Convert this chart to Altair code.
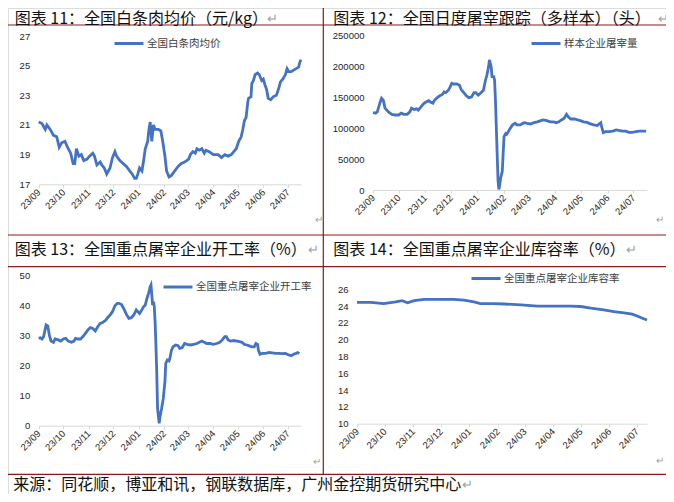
import altair as alt
import pandas as pd

# ---------------- data ----------------
price_dates = ["2023/09/01","2023/09/05","2023/09/07","2023/09/09","2023/09/11","2023/09/15","2023/09/19","2023/09/23","2023/09/26","2023/09/29",
 "2023/10/03","2023/10/07","2023/10/10","2023/10/13","2023/10/15","2023/10/17","2023/10/20","2023/10/23","2023/10/26","2023/10/30",
 "2023/11/02","2023/11/06","2023/11/08","2023/11/11","2023/11/15","2023/11/17","2023/11/20","2023/11/23","2023/11/27","2023/11/30",
 "2023/12/03","2023/12/05","2023/12/09","2023/12/13","2023/12/17","2023/12/21","2023/12/24","2023/12/27","2023/12/29","2023/12/31",
 "2024/01/02","2024/01/05","2024/01/07","2024/01/09","2024/01/12","2024/01/13","2024/01/15","2024/01/16","2024/01/17","2024/01/19",
 "2024/01/21","2024/01/25","2024/01/28","2024/01/30","2024/02/02","2024/02/04","2024/02/07","2024/02/10","2024/02/14","2024/02/18",
 "2024/02/22","2024/02/26","2024/03/02","2024/03/04","2024/03/07","2024/03/10","2024/03/12","2024/03/15","2024/03/18","2024/03/21",
 "2024/03/23","2024/03/27","2024/04/01","2024/04/07","2024/04/11","2024/04/15","2024/04/19","2024/04/23","2024/04/26","2024/04/29",
 "2024/05/02","2024/05/05","2024/05/07","2024/05/09","2024/05/11","2024/05/13","2024/05/14","2024/05/17","2024/05/18","2024/05/20",
 "2024/05/22","2024/05/25","2024/05/27","2024/05/30","2024/06/01","2024/06/03","2024/06/05","2024/06/07","2024/06/10","2024/06/13",
 "2024/06/17","2024/06/20","2024/06/22","2024/06/25","2024/06/28","2024/06/30","2024/07/02","2024/07/05","2024/07/08","2024/07/11",
 "2024/07/14","2024/07/16","2024/07/17"]
price_vals = [21.2,21.1,20.9,20.7,21.0,20.7,20.3,20.2,19.5,19.8,
 19.9,19.4,19.1,18.4,18.4,19.4,18.9,19.0,18.6,18.7,
 18.9,19.1,18.9,18.3,18.5,18.3,18.1,17.7,18.1,18.8,
 19.2,18.9,18.6,18.4,18.2,17.9,17.7,17.4,17.4,17.7,
 18.1,17.9,18.6,19.4,19.9,20.5,21.2,20.5,19.9,21.0,
 20.7,20.7,20.6,20.0,18.9,17.9,17.5,17.6,17.9,18.2,
 18.4,18.5,18.7,19.0,19.2,19.1,19.4,19.3,19.4,19.1,
 19.3,19.2,19.0,19.0,18.8,19.0,18.9,19.0,19.2,19.4,
 19.9,20.2,20.7,21.3,21.5,22.5,22.8,22.9,23.8,24.0,
 24.4,24.5,24.4,24.0,24.1,23.7,23.4,22.8,22.7,22.9,
 23.0,23.5,23.9,24.1,24.4,24.8,24.6,24.6,24.7,24.8,
 24.9,25.3,25.4]

slaughter_dates = ["2023/09/01","2023/09/04","2023/09/06","2023/09/09","2023/09/11","2023/09/13","2023/09/15","2023/09/19","2023/09/23","2023/09/27",
 "2023/10/01","2023/10/04","2023/10/07","2023/10/11","2023/10/14","2023/10/16","2023/10/19","2023/10/22","2023/10/24","2023/10/27",
 "2023/10/30","2023/11/02","2023/11/05","2023/11/07","2023/11/10","2023/11/12","2023/11/15","2023/11/18","2023/11/21","2023/11/23",
 "2023/11/25","2023/11/28","2023/11/30","2023/12/02","2023/12/04","2023/12/08","2023/12/11","2023/12/13","2023/12/16","2023/12/19",
 "2023/12/22","2023/12/25","2023/12/28","2023/12/30","2024/01/02","2024/01/05","2024/01/08","2024/01/10","2024/01/12","2024/01/14",
 "2024/01/15","2024/01/17","2024/01/18","2024/01/20","2024/01/21","2024/01/22","2024/01/23","2024/01/24","2024/01/25","2024/01/26",
 "2024/01/27","2024/01/28","2024/01/30","2024/01/31","2024/02/01","2024/02/03","2024/02/04","2024/02/06","2024/02/08","2024/02/11",
 "2024/02/14","2024/02/16","2024/02/20","2024/02/23","2024/02/25","2024/02/28","2024/03/03","2024/03/07","2024/03/11","2024/03/15",
 "2024/03/18","2024/03/22","2024/03/26","2024/03/30","2024/04/02","2024/04/05","2024/04/08","2024/04/11","2024/04/14","2024/04/16",
 "2024/04/19","2024/04/23","2024/04/27","2024/04/30","2024/05/04","2024/05/08","2024/05/12","2024/05/16","2024/05/20","2024/05/22",
 "2024/05/24","2024/05/25","2024/05/27","2024/05/30","2024/06/03","2024/06/07","2024/06/11","2024/06/14","2024/06/18","2024/06/22",
 "2024/06/26","2024/06/30","2024/07/04","2024/07/08","2024/07/12","2024/07/16"]
slaughter_vals = [125000,124000,126000,140000,148000,145000,132000,126000,122000,121000,
 121000,124000,122000,122000,126000,132000,130000,131000,129000,134000,
 139000,142000,144000,142000,140000,145000,149000,152000,154000,158000,
 157000,161000,166000,172000,171000,171000,169000,162000,157000,152000,
 149000,150000,157000,157000,153000,157000,161000,175000,185000,199000,
 210000,199000,183000,183000,177000,145000,102000,59000,16000,1000,
 8000,19000,30000,59000,86000,91000,90000,94000,99000,105000,
 107500,105000,105000,107500,108600,107500,106500,108600,110000,112000,
 113000,112000,110000,110000,108600,110000,113000,115500,122000,118000,
 114500,114500,113000,112000,110000,109000,106500,105000,104000,106500,
 108600,102000,92500,94000,94000,95000,97000,96000,95000,95000,
 93000,93000,94000,95000,95000,95000]

util_dates = ["2023/09/01","2023/09/03","2023/09/05","2023/09/07","2023/09/10","2023/09/12","2023/09/14","2023/09/16","2023/09/19","2023/09/21",
 "2023/09/25","2023/09/28","2023/10/01","2023/10/04","2023/10/07","2023/10/11","2023/10/14","2023/10/16","2023/10/19","2023/10/22",
 "2023/10/25","2023/10/28","2023/10/31","2023/11/03","2023/11/06","2023/11/09","2023/11/12","2023/11/15","2023/11/18","2023/11/22",
 "2023/11/24","2023/11/27","2023/11/30","2023/12/03","2023/12/06","2023/12/08","2023/12/11","2023/12/14","2023/12/17","2023/12/20",
 "2023/12/23","2023/12/26","2023/12/29","2024/01/02","2024/01/04","2024/01/07","2024/01/09","2024/01/11","2024/01/13","2024/01/15",
 "2024/01/16","2024/01/18","2024/01/19","2024/01/20","2024/01/21","2024/01/22","2024/01/23","2024/01/24","2024/01/26","2024/01/27",
 "2024/01/29","2024/01/31","2024/02/02","2024/02/03","2024/02/05","2024/02/07","2024/02/08","2024/02/10","2024/02/12","2024/02/15",
 "2024/02/18","2024/02/20","2024/02/23","2024/02/26","2024/02/29","2024/03/04","2024/03/08","2024/03/12","2024/03/15","2024/03/18",
 "2024/03/21","2024/03/24","2024/03/28","2024/04/01","2024/04/05","2024/04/09","2024/04/12","2024/04/15","2024/04/17","2024/04/19",
 "2024/04/22","2024/04/26","2024/04/30","2024/05/03","2024/05/06","2024/05/09","2024/05/12","2024/05/15","2024/05/18","2024/05/21",
 "2024/05/23","2024/05/25","2024/05/26","2024/05/28","2024/05/31","2024/06/04","2024/06/08","2024/06/12","2024/06/16","2024/06/20",
 "2024/06/24","2024/06/28","2024/07/02","2024/07/05","2024/07/08","2024/07/11","2024/07/13","2024/07/15"]
util_vals = [29.1,29.3,28.9,29.7,33.6,33.3,30.2,28.2,27.8,28.9,
 28.6,28.2,28.9,29.1,28.2,27.8,28.2,29.1,28.9,28.9,
 29.7,30.8,31.9,32.7,32.4,31.6,33.0,34.1,34.4,35.2,
 36.0,36.9,38.0,40.0,40.8,40.8,40.4,38.9,37.1,35.8,
 36.0,36.9,38.6,37.4,38.2,39.7,40.2,42.4,44.1,46.3,
 46.9,40.2,41.3,39.7,34.7,26.9,18.0,5.8,0.8,3.0,
 5.8,9.1,14.7,20.8,21.9,21.6,22.4,25.2,26.3,26.9,
 26.7,25.8,26.0,27.4,27.1,26.9,27.1,27.4,27.8,28.2,
 27.8,27.4,27.4,27.1,27.4,27.8,28.6,29.7,29.7,28.6,
 28.2,28.4,28.2,28.0,27.8,27.1,26.9,26.6,26.3,26.3,
 27.4,27.1,25.2,23.8,24.1,24.1,24.4,24.3,24.1,24.1,
 24.0,24.1,23.6,23.3,23.8,24.1,24.4,24.1]

storage_dates = ["2023/09/01","2023/09/16","2023/09/30","2023/10/13","2023/10/20","2023/10/26","2023/11/02","2023/11/13","2023/11/27","2023/12/15",
 "2023/12/26","2024/01/06","2024/01/13","2024/01/27","2024/02/08","2024/02/26","2024/03/15","2024/04/02","2024/04/20","2024/05/01",
 "2024/05/12","2024/05/26","2024/06/06","2024/06/17","2024/06/26","2024/07/02","2024/07/07","2024/07/12"]
storage_vals = [24.45,24.45,24.3,24.5,24.65,24.4,24.65,24.8,24.8,24.8,
 24.7,24.5,24.3,24.3,24.25,24.15,24.0,24.0,24.0,23.95,
 23.75,23.55,23.35,23.2,23.05,22.8,22.55,22.35]

month_ticks = ["2023/09/01","2023/10/01","2023/11/01","2023/12/01","2024/01/01","2024/02/01",
               "2024/03/01","2024/04/01","2024/05/01","2024/06/01","2024/07/01"]

titles = ["图表 11：全国白条肉均价（元/kg）", "图表 12：全国日度屠宰跟踪（多样本）（头）",
          "图表 13：全国重点屠宰企业开工率（%）", "图表 14：全国重点屠宰企业库容率（%）"]
series_names = ["全国白条肉均价", "样本企业屠宰量", "全国重点屠宰企业开工率", "全国重点屠宰企业库容率"]
source_text = "来源：同花顺，博亚和讯，钢联数据库，广州金控期货研究中心"

# ---------------- helpers ----------------
def dt(s):
    y, m, d = (int(p) for p in s.split("/"))
    return alt.DateTime(year=y, month=m, date=d)

W, H = 658, 486
BLUE = "#4472C4"
RED = "#8B1A1A"
LABEL_FONT = "Liberation Sans"
CJK = "Noto Sans CJK SC"
one = pd.DataFrame({"k": [0]})


def panel(dates, vals, name, tag, xrng, yrng, ydom, yvals, x_end, leg_xy, yfmt=None):
    df = pd.DataFrame({"d" + tag: dates, "v" + tag: vals, "s" + tag: [name] * len(vals)})
    yaxis_kw = dict(orient="left", offset=-xrng[0], values=yvals, domain=False, ticks=False,
                    grid=False, title=None, labelPadding=9, labelFont=LABEL_FONT,
                    labelFontSize=9.5, labelColor="#262626")
    if yfmt:
        yaxis_kw["format"] = yfmt
    return alt.Chart(df).mark_line(strokeWidth=2.8).encode(
        x=alt.X("d" + tag + ":T",
                scale=alt.Scale(domain=[dt("2023/09/01"), dt(x_end)], range=list(xrng), nice=False),
                axis=alt.Axis(orient="bottom", offset=yrng[0] - H, values=[dt(m) for m in month_ticks],
                              format="%y/%m", labelAngle=315, labelAlign="right", labelBaseline="middle",
                              labelPadding=3, domainColor="#D9D9D9", tickColor="#D9D9D9", tickSize=3,
                              grid=False, title=None, labelFont=LABEL_FONT, labelFontSize=9.5,
                              labelColor="#262626", labelOverlap=False, labelFlush=False)),
        y=alt.Y("v" + tag + ":Q",
                scale=alt.Scale(domain=ydom, range=list(yrng), nice=False, zero=False),
                axis=alt.Axis(**yaxis_kw)),
        color=alt.Color("s" + tag + ":N", scale=alt.Scale(range=[BLUE]),
                        legend=alt.Legend(orient="none", legendX=leg_xy[0], legendY=leg_xy[1],
                                          title=None, symbolType="stroke", symbolStrokeWidth=3,
                                          symbolSize=841, labelFont=CJK, labelFontSize=10.5,
                                          labelColor="#404040", labelOffset=2, padding=0)),
    )


p11 = panel(price_dates, price_vals, series_names[0], "a", (30.7, 293), (176.3, 28), [17, 27],
            [17, 19, 21, 23, 25, 27], "2024/07/17", (105, 19.5))
p12 = panel(slaughter_dates, slaughter_vals, series_names[1], "b", (365, 639), (182, 27), [0, 250000],
            [0, 50000, 100000, 150000, 200000, 250000], "2024/07/17", (522, 19.5), yfmt="d")
p13 = panel(util_dates, util_vals, series_names[2], "c", (30.7, 293), (417.7, 267.7), [0, 50],
            [0, 10, 20, 30, 40, 50], "2024/07/17", (154, 263))
p14 = panel(storage_dates, storage_vals, series_names[3], "e", (349, 639), (415.7, 281.3), [10, 26],
            [10, 12, 14, 16, 18, 20, 22, 24, 26], "2024/07/12", (462, 254.5))


def hline(y, x0=0, x1=W):
    return alt.Chart(one).mark_rule(color=RED, strokeWidth=1.2).encode(
        x=alt.value(x0), x2=alt.value(x1), y=alt.value(y))


def vline(x, y0, y1):
    return alt.Chart(one).mark_rule(color=RED, strokeWidth=1.2).encode(
        x=alt.value(x), y=alt.value(y0), y2=alt.value(y1))


def label(txt, x, y, size=16, color="#111111"):
    return alt.Chart(one).mark_text(align="left", baseline="middle", font=CJK, fontSize=size,
                                    color=color).encode(x=alt.value(x), y=alt.value(y), text=alt.value(txt))


decor = [
    hline(17), hline(227), hline(258.7), hline(466.3),
    vline(315.3, 0, 466.3),
    label(titles[0], 6.7, 11), label(titles[1], 325.3, 11),
    label(titles[2], 6.7, 242), label(titles[3], 325.3, 242),
    label(source_text, 5.3, 477),
    label("↵", 259, 11, 13, "#A0A0A0"), label("↵", 650, 11, 13, "#A0A0A0"),
    label("↵", 300, 242, 13, "#A0A0A0"), label("↵", 618, 242, 13, "#A0A0A0"),
    label("↵", 454, 477, 13, "#A0A0A0"),
    label("↵", 307, 212, 10, "#A0A0A0"), label("↵", 648, 212, 10, "#A0A0A0"),
    label("↵", 305, 454, 10, "#A0A0A0"), label("↵", 648, 453, 10, "#A0A0A0"),
]

chart = alt.layer(p11, p12, p13, p14, *decor).resolve_scale(
    x="independent", y="independent", color="independent"
).resolve_axis(x="independent", y="independent").resolve_legend(color="independent").properties(
    width=W, height=H, autosize=alt.AutoSizeParams(type="none"), padding=0
).configure_view(stroke=None).configure(background="white")

chart.save("out.html", embed_options={"renderer": "svg", "actions": False})
